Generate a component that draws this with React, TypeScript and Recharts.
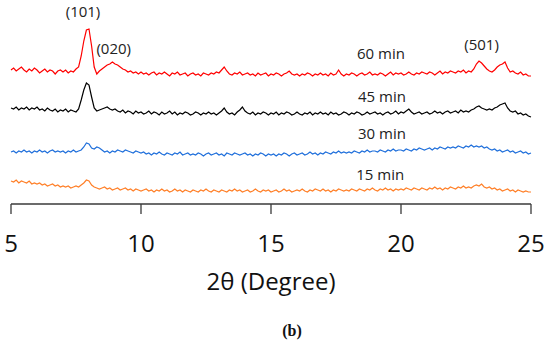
import { LineChart, Line, XAxis, YAxis, ReferenceDot } from "recharts"

// scan grid: 5 to 25 deg, 0.1 deg step
const scanStart = 5
const scanStep = 0.1
const ticks = [5, 10, 15, 20, 25]

// intensities (arb. units, curves already stacked)
const min60 = [
  134, 136, 133, 135, 137, 134, 132, 135, 133, 136,
  134, 131, 133, 135, 132, 134, 133, 130, 133, 134,
  132, 134, 131, 133, 132, 135, 137, 148, 163, 174,
  175, 158, 137, 130, 133, 135, 137, 139, 140, 142,
  140, 139, 137, 135, 134, 132, 133, 131, 132, 130,
  132, 130, 131, 129, 131, 132, 129, 131, 130, 132,
  130, 128, 131, 130, 132, 129, 130, 131, 128, 130,
  131, 129, 130, 128, 131, 130, 129, 131, 130, 132,
  131, 134, 137, 133, 130, 129, 131, 130, 132, 129,
  130, 131, 129, 130, 128, 131, 129, 130, 131, 128,
  130, 129, 131, 130, 128, 130, 131, 133, 130, 129,
  130, 128, 130, 129, 131, 130, 128, 130, 129, 131,
  129, 130, 128, 131, 129, 130, 134, 130, 128, 130,
  129, 131, 130, 128, 130, 131, 129, 130, 132, 129,
  130, 129, 131, 130, 128, 130, 132, 129, 131, 130,
  131, 129, 130, 132, 130, 129, 131, 130, 132, 131,
  130, 132, 131, 129, 131, 133, 130, 132, 131, 133,
  132, 131, 133, 132, 134, 131, 133, 132, 135, 140,
  143, 141, 138, 135, 133, 132, 134, 137, 139, 140,
  142, 136, 132, 133, 131, 130, 132, 129, 130, 128,
  128,
]
const min45 = [
  96, 95, 97, 94, 96, 95, 97, 94, 96, 95,
  97, 94, 95, 93, 96, 94, 93, 95, 92, 94,
  93, 95, 92, 94, 93, 92, 95, 104, 114, 121,
  119, 107, 96, 93, 94, 95, 96, 97, 95, 94,
  95, 93, 92, 94, 91, 93, 92, 90, 93, 91,
  92, 90, 91, 93, 90, 92, 91, 89, 92, 90,
  91, 93, 90, 92, 89, 91, 90, 92, 91, 89,
  90, 92, 91, 89, 91, 90, 92, 90, 91, 89,
  91, 93, 96, 92, 90, 91, 89, 92, 94, 97,
  93, 91, 90, 92, 89, 91, 90, 92, 91, 89,
  91, 90, 92, 89, 91, 90, 92, 91, 89, 90,
  92, 90, 89, 91, 90, 92, 89, 91, 90, 92,
  90, 91, 89, 92, 90, 91, 89, 90, 92, 91,
  89, 91, 90, 92, 91, 89, 90, 92, 90, 91,
  92, 90, 91, 89, 91, 92, 90, 91, 93, 90,
  92, 91, 93, 95, 92, 90, 91, 92, 90, 91,
  92, 90, 91, 93, 91, 92, 90, 92, 93, 91,
  92, 93, 91, 94, 92, 93, 92, 94, 95, 97,
  98, 96, 95, 94, 95, 94, 96, 97, 99, 100,
  101, 96, 93, 92, 93, 90, 91, 89, 90, 88,
  87,
]
const min30 = [
  52, 53, 51, 53, 52, 54, 52, 53, 51, 53,
  52, 54, 52, 53, 51, 53, 54, 52, 53, 52,
  53, 51, 53, 52, 54, 52, 53, 54, 57, 61,
  60, 56, 55, 57, 56, 54, 52, 53, 51, 53,
  52, 54, 53, 52, 54, 53, 52, 51, 53, 52,
  51, 52, 50, 51, 49, 51, 50, 52, 50, 49,
  51, 50, 49, 51, 50, 52, 49, 50, 51, 49,
  50, 49, 51, 50, 48, 50, 51, 49, 50, 51,
  49, 50, 48, 51, 50, 49, 51, 50, 49, 50,
  51, 49, 50, 48, 50, 49, 51, 50, 48, 50,
  49, 50, 48, 50, 49, 51, 50, 48, 50, 51,
  49, 50, 51, 49, 50, 52, 50, 51, 49, 51,
  50, 52, 51, 50, 52, 51, 53, 51, 52, 51,
  52, 51, 53, 52, 51, 53, 52, 54, 52, 53,
  53, 52, 54, 53, 52, 54, 53, 55, 53, 54,
  54, 53, 55, 54, 53, 55, 54, 56, 55, 54,
  55, 56, 54, 56, 55, 57, 56, 55, 57, 56,
  57, 56, 58, 57, 56, 58, 57, 59, 57, 58,
  57, 58, 56, 57, 55, 54, 55, 53, 54, 52,
  53, 54, 52, 53, 51, 52, 53, 51, 52, 50,
  51,
]
const min15 = [
  23, 22, 24, 21, 23, 22, 21, 23, 20, 21,
  20, 21, 19, 20, 18, 19, 20, 18, 19, 17,
  18, 17, 18, 16, 17, 18, 17, 19, 21, 24,
  23, 19, 17, 16, 15, 16, 17, 15, 16, 14,
  15, 16, 14, 15, 16, 14, 15, 13, 15, 14,
  13, 14, 15, 13, 14, 12, 14, 13, 15, 13,
  14, 12, 13, 15, 13, 14, 12, 14, 13, 12,
  14, 13, 12, 14, 13, 15, 13, 12, 14, 13,
  12, 14, 13, 12, 14, 13, 15, 13, 14, 12,
  13, 14, 12, 13, 15, 13, 12, 14, 13, 14,
  12, 13, 14, 12, 13, 15, 13, 14, 12, 13,
  14, 13, 15, 13, 12, 14, 13, 15, 14, 13,
  15, 13, 14, 12, 14, 13, 15, 14, 13, 14,
  13, 15, 14, 13, 15, 14, 13, 15, 14, 16,
  14, 13, 15, 14, 16, 14, 15, 13, 15, 14,
  15, 14, 16, 15, 14, 16, 15, 14, 16, 15,
  14, 16, 15, 17, 15, 16, 14, 16, 15, 17,
  16, 15, 17, 16, 18, 16, 17, 16, 18, 19,
  18, 20, 17, 16, 17, 15, 16, 14, 15, 13,
  14, 15, 13, 14, 12, 14, 13, 12, 13, 12,
  12,
]

const labels = [
  { x: 7.77, y: 192, text: "(101)" },
  { x: 8.95, y: 155, text: "(020)" },
  { x: 19.23, y: 150, text: "60 min" },
  { x: 23.1, y: 159, text: "(501)" },
  { x: 19.27, y: 107, text: "45 min" },
  { x: 19.27, y: 70.5, text: "30 min" },
  { x: 19.2, y: 29.5, text: "15 min" },
]

const data = min60.map((v, i) => ({
  x: +(scanStart + i * scanStep).toFixed(1),
  r: v,
  k: min45[i],
  b: min30[i],
  o: min15[i],
}))

const font = "'Open Sans', sans-serif"

export default function App() {
  return (
    <div style={{ position: "absolute", left: 0, top: 0, width: 550, height: 346, background: "#fff" }}>
      <LineChart width={550} height={346} data={data} margin={{ top: 4, right: 19, left: 11, bottom: 0 }}>
        <XAxis
          dataKey="x"
          type="number"
          domain={[5, 25]}
          ticks={ticks}
          height={142}
          tickSize={10}
          tickMargin={21}
          stroke="#3a3a3a"
          strokeWidth={1.3}
          tick={{ fill: "#111", fontSize: 24, fontFamily: font }}
          label={{
            value: "2θ (Degree)",
            position: "insideBottom",
            offset: 56,
            fill: "#111",
            fontSize: 24,
            fontFamily: font,
          }}
        />
        <YAxis hide domain={[0, 200]} type="number" />
        <Line dataKey="r" stroke="#ff0000" strokeWidth={1.2} dot={false} isAnimationActive={false} />
        <Line dataKey="k" stroke="#000000" strokeWidth={1.2} dot={false} isAnimationActive={false} />
        <Line dataKey="b" stroke="#1f6fdb" strokeWidth={1.2} dot={false} isAnimationActive={false} />
        <Line dataKey="o" stroke="#ff7f27" strokeWidth={1.2} dot={false} isAnimationActive={false} />
        {labels.map((l) => (
          <ReferenceDot
            key={l.text}
            x={l.x}
            y={l.y}
            r={0}
            fill="none"
            stroke="none"
            label={{ value: l.text, position: "center", fill: "#222", fontSize: 15, fontFamily: font }}
          />
        ))}
      </LineChart>
      <div
        style={{
          position: "absolute",
          left: 272,
          top: 322,
          width: 40,
          textAlign: "center",
          fontFamily: "'Liberation Serif', serif",
          fontWeight: "bold",
          fontSize: 16,
          color: "#111",
        }}
      >
        (b)
      </div>
    </div>
  )
}
